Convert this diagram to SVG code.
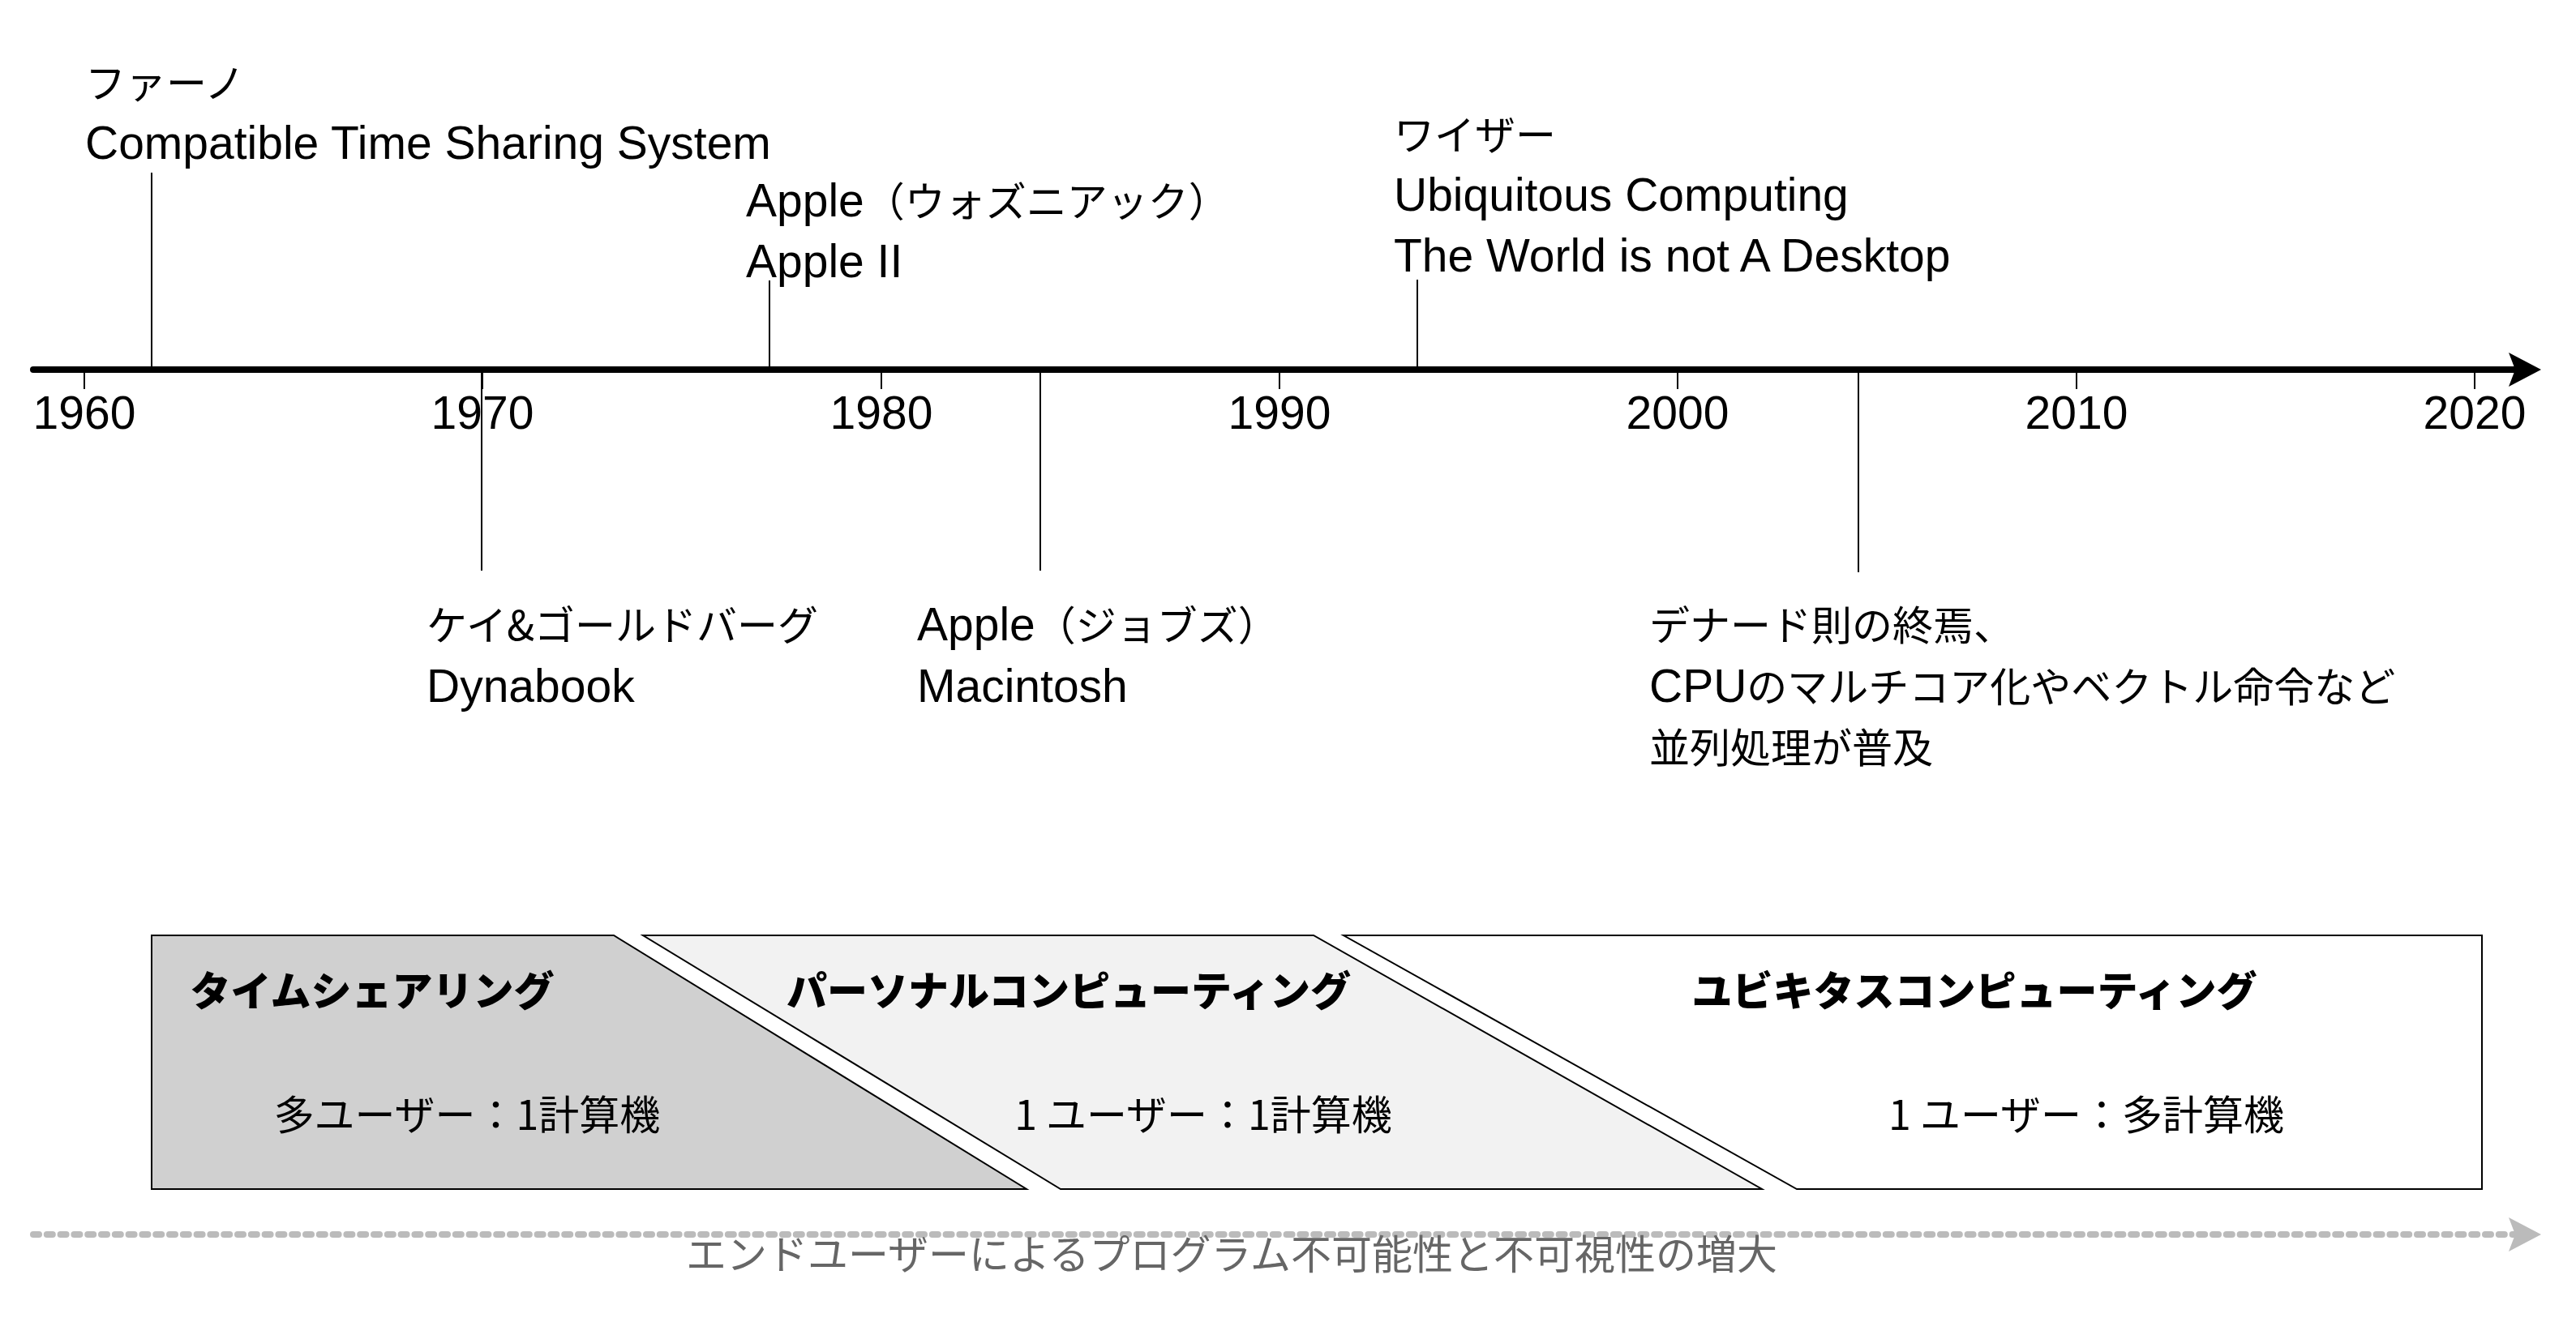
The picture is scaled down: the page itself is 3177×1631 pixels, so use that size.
<svg xmlns="http://www.w3.org/2000/svg" width="3177" height="1631" viewBox="0 0 3177 1631">
<style>
.t{font-family:"Liberation Sans","Noto Sans CJK JP",sans-serif;font-size:57px;fill:#000}
.j{font-family:"Noto Sans CJK JP","Liberation Sans",sans-serif;font-size:50px}
.y{font-family:"Liberation Sans","Noto Sans CJK JP",sans-serif;font-size:57px;fill:#000;text-anchor:middle}
.h{font-family:"Noto Sans CJK JP",sans-serif;font-size:50px;font-weight:900;fill:#000;text-anchor:middle}
.s{font-family:"Noto Sans CJK JP",sans-serif;font-size:50px;fill:#000;text-anchor:middle}
.g{font-family:"Noto Sans CJK JP",sans-serif;font-size:50px;fill:#666}
.ev{stroke:#000;stroke-width:2;fill:none}
.tick{stroke:#000;stroke-width:2;fill:none}
.era{stroke:#000;stroke-width:2}
</style>
<defs>
<marker id="ah" viewBox="0 0 40 42" markerWidth="40" markerHeight="42" refX="8" refY="21" orient="auto" markerUnits="userSpaceOnUse">
<path d="M0,0 L40,21 L0,42 L8,21 Z" fill="#000"/>
</marker>
<marker id="ahg" viewBox="0 0 40 42" markerWidth="40" markerHeight="42" refX="8" refY="21" orient="auto" markerUnits="userSpaceOnUse">
<path d="M0,0 L40,21 L0,42 L8,21 Z" fill="#bbb"/>
</marker>
</defs>
<rect width="3177" height="1631" fill="#fff"/>

<g id="connectors">
<line x1="41" y1="456" x2="3102" y2="456" stroke="#000" stroke-width="8" stroke-linecap="round" marker-end="url(#ah)"/>
<line class="tick" x1="104" y1="456" x2="104" y2="480"/>
<line class="tick" x1="595" y1="456" x2="595" y2="480"/>
<line class="tick" x1="1087" y1="456" x2="1087" y2="480"/>
<line class="tick" x1="1578" y1="456" x2="1578" y2="480"/>
<line class="tick" x1="2069" y1="456" x2="2069" y2="480"/>
<line class="tick" x1="2561" y1="456" x2="2561" y2="480"/>
<line class="tick" x1="3052" y1="456" x2="3052" y2="480"/>
<line class="ev" x1="187" y1="213" x2="187" y2="456"/>
<line class="ev" x1="949" y1="346" x2="949" y2="456"/>
<line class="ev" x1="1748" y1="345" x2="1748" y2="456"/>
<line class="ev" x1="594" y1="456" x2="594" y2="704"/>
<line class="ev" x1="1283" y1="456" x2="1283" y2="704"/>
<line class="ev" x1="2292" y1="456" x2="2292" y2="706"/>
<line x1="41" y1="1523" x2="3102" y2="1523" stroke="#bbb" stroke-width="8" stroke-linecap="round" stroke-dasharray="7 9.8" marker-end="url(#ahg)"/>
</g>

<g id="years">
<text class="y" x="104" y="529">1960</text>
<text class="y" x="595" y="529">1970</text>
<text class="y" x="1087" y="529">1980</text>
<text class="y" x="1578" y="529">1990</text>
<text class="y" x="2069" y="529">2000</text>
<text class="y" x="2561" y="529">2010</text>
<text class="y" x="3052" y="529">2020</text>
</g>

<g id="ev-fano">
<text class="t j" x="105" y="121">ファーノ</text>
<text class="t" x="105" y="196">Compatible Time Sharing System</text>
</g>
<g id="ev-apple2">
<text class="t" x="920" y="267">Apple<tspan class="j">（ウォズニアック）</tspan></text>
<text class="t" x="920" y="342">Apple II</text>
</g>
<g id="ev-weiser">
<text class="t j" x="1719" y="185">ワイザー</text>
<text class="t" x="1719" y="260">Ubiquitous Computing</text>
<text class="t" x="1719" y="335">The World is not A Desktop</text>
</g>
<g id="ev-kay">
<text class="t j" x="526" y="790">ケイ&amp;ゴールドバーグ</text>
<text class="t" x="526" y="866">Dynabook</text>
</g>
<g id="ev-mac">
<text class="t" x="1131" y="790">Apple<tspan class="j">（ジョブズ）</tspan></text>
<text class="t" x="1131" y="866">Macintosh</text>
</g>
<g id="ev-dennard">
<text class="t j" x="2034" y="790">デナード則の終焉、</text>
<text class="t" x="2034" y="866">CPU<tspan class="j">のマルチコア化やベクトル命令など</tspan></text>
<text class="t j" x="2034" y="941">並列処理が普及</text>
</g>

<g id="era-timesharing">
<path class="era" d="M187,1154 L757,1154 L1266,1467 L187,1467 Z" fill="#d0d0d0"/>
<text class="h" x="459" y="1241">タイムシェアリング</text>
<text class="s" x="576" y="1394">多ユーザー：1計算機</text>
</g>
<g id="era-personal">
<path class="era" d="M793,1154 L1620,1154 L2173,1467 L1308,1467 Z" fill="#f2f2f2"/>
<text class="h" x="1318" y="1241">パーソナルコンピューティング</text>
<text class="s" x="1484" y="1394">1 ユーザー：1計算機</text>
</g>
<g id="era-ubiquitous">
<path class="era" d="M1657,1154 L3061,1154 L3061,1467 L2216,1467 Z" fill="#fff"/>
<text class="h" x="2435" y="1241">ユビキタスコンピューティング</text>
<text class="s" x="2573" y="1394">1 ユーザー：多計算機</text>
</g>

<g id="trend-label">
<text class="g" x="846" y="1566">エンドユーザーによるプログラム不可能性と不可視性の増大</text>
</g>
</svg>
